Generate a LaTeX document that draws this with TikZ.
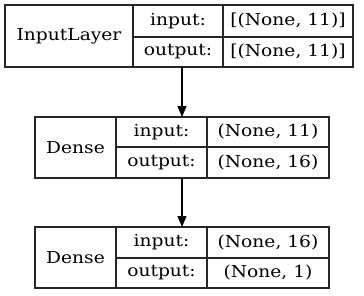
\documentclass[tikz,border=0pt]{standalone}
\usepackage{fontspec}
\setmainfont{DejaVu Serif}[FakeStretch=1.13]
\usetikzlibrary{arrows.meta}
\begin{document}
\begin{tikzpicture}[x=1pt,y=-1pt,
  cell/.style={draw=black!85,line width=1.3pt,inner sep=0pt,font=\fontsize{16.5}{18}\selectfont},
  conn/.style={line width=1.3pt,-{Triangle[length=11pt,width=9pt]}}]
\useasboundingbox (0,0) rectangle (364,295);
% InputLayer
\node[cell,minimum width=128,minimum height=62] (l1) at (69,36) {InputLayer};
\node[cell,minimum width=90,minimum height=32] (i1) at (178,21) {input:};
\node[cell,minimum width=90,minimum height=30] (o1) at (178,52) {output:};
\node[cell,minimum width=130,minimum height=32] (iv1) at (288,21) {[(None, 11)]};
\node[cell,minimum width=130,minimum height=30] (ov1) at (288,52) {[(None, 11)]};
% Dense 1
\node[cell,minimum width=81,minimum height=61] (l2) at (75.5,147.5) {Dense};
\node[cell,minimum width=91,minimum height=30] (i2) at (161.5,132) {input:};
\node[cell,minimum width=91,minimum height=31] (o2) at (161.5,162.5) {output:};
\node[cell,minimum width=122,minimum height=30] (iv2) at (268,132) {(None, 11)};
\node[cell,minimum width=122,minimum height=31] (ov2) at (268,162.5) {(None, 16)};
% Dense 2
\node[cell,minimum width=81,minimum height=61] (l3) at (75.5,257.5) {Dense};
\node[cell,minimum width=91,minimum height=31] (i3) at (161.5,242.5) {input:};
\node[cell,minimum width=91,minimum height=30] (o3) at (161.5,273) {output:};
\node[cell,minimum width=122,minimum height=31] (iv3) at (268,242.5) {(None, 16)};
\node[cell,minimum width=122,minimum height=30] (ov3) at (268,273) {(None, 1)};
% connectors
\coordinate (a1) at (182,67);
\coordinate (b1) at (182,117);
\coordinate (a2) at (182,178);
\coordinate (b2) at (182,227);
\draw[conn] (a1) -- (b1);
\draw[conn] (a2) -- (b2);
\end{tikzpicture}
\end{document}
